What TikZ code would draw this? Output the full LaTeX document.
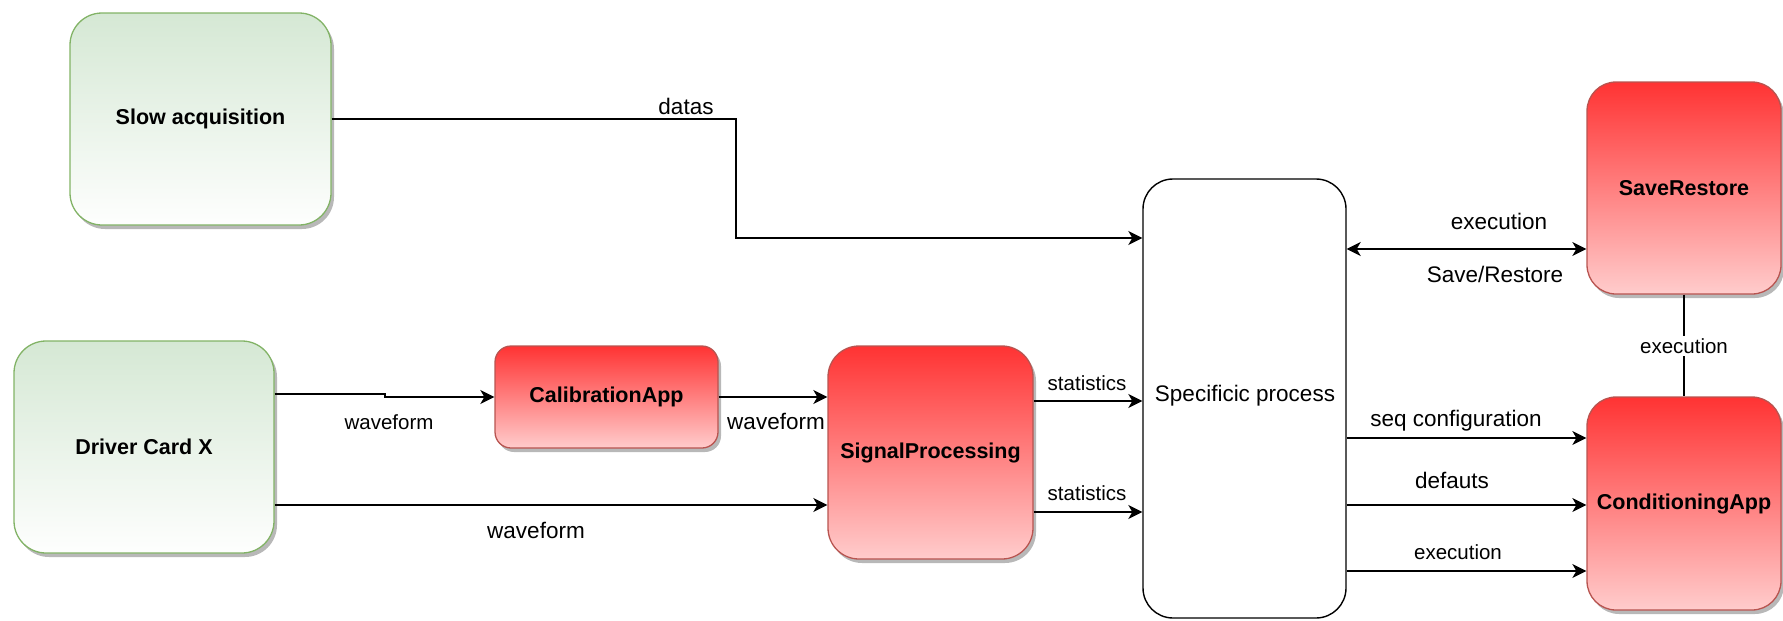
\documentclass[tikz,border=0pt]{standalone}
\usepackage{fontspec}
\setmainfont{Liberation Sans}
\usetikzlibrary{arrows.meta,shadows}
\definecolor{gfill}{HTML}{D5E8D4}
\definecolor{gline}{HTML}{82B366}
\definecolor{rtop}{HTML}{FF3333}
\definecolor{rbot}{HTML}{FFCCCC}
\definecolor{rline}{HTML}{B85450}
\newcommand{\nodefont}{\fontsize{21.5}{26}\selectfont\bfseries}
\newcommand{\lblfont}{\fontsize{22.5}{27}\selectfont}
\newcommand{\smlfont}{\fontsize{20.5}{25}\selectfont}
\tikzset{
  shad/.style={drop shadow={shadow xshift=3pt,shadow yshift=-4pt,fill=black,opacity=0.28}},
  greenbox/.style={rectangle, draw=gline, line width=1.3pt, top color=gfill, bottom color=white!97!gfill, shad, font=\nodefont, inner sep=0pt},
  redbox/.style={rectangle, draw=rline, line width=1.3pt, top color=rtop, bottom color=rbot, shad, font=\nodefont, inner sep=0pt},
  procbox/.style={rectangle, draw=black, line width=1.4pt, fill=white, font=\lblfont, inner sep=0pt},
  arr/.style={draw, line width=1.6pt, -{Stealth[length=14pt,width=14pt,inset=4pt]}},
  biarr/.style={draw, line width=1.6pt, {Stealth[length=14pt,width=14pt,inset=4pt]}-{Stealth[length=14pt,width=14pt,inset=4pt]}},
  lbl/.style={font=\lblfont, inner sep=1pt},
  slbl/.style={font=\smlfont, inner sep=1pt}
}
\begin{document}
\begin{tikzpicture}[x=1pt,y=-1pt]
\useasboundingbox (0,0) rectangle (1783,621);
% nodes
\node[greenbox, rounded corners=32pt, minimum width=261pt, minimum height=212pt] (sa) at (200.5,119) {Slow acquisition};
\node[greenbox, rounded corners=32pt, minimum width=260pt, minimum height=212pt] (dc) at (144,447) {Driver Card X};
\node[redbox, rounded corners=16pt, minimum width=223pt, minimum height=102pt] (cal) at (606.5,397) {CalibrationApp};
\node[redbox, rounded corners=31pt, minimum width=205pt, minimum height=213pt] (sp) at (930.5,452.5) {SignalProcessing};
\node[procbox, rounded corners=30pt, minimum width=203pt, minimum height=439pt] (spec) at (1244.5,398.5) {};
\node[lbl] (spectxt) at (1245,396) {Specificic process};
\node[redbox, rounded corners=29pt, minimum width=194pt, minimum height=212pt] (sr) at (1684,188) {SaveRestore};
\node[redbox, rounded corners=29pt, minimum width=194pt, minimum height=213pt] (ca) at (1684,503.5) {ConditioningApp};
% helper coordinates
\coordinate (d1) at (736,238);
\coordinate (y394) at (0,394);
\coordinate (s1) at (385,394);
\coordinate (s2) at (385,397);
\coordinate (y505) at (0,505);
\coordinate (y401) at (0,401);
\coordinate (y512) at (0,512);
\coordinate (y249) at (0,249);
\coordinate (y438) at (0,438);
\coordinate (y571) at (0,571);
% connectors
\draw[arr] (sa.east) -| (d1) -- (d1 -| spec.west);
\draw[arr] (dc.east |- y394) -- (s1) -- (s2) -- (cal.west);
\draw[arr] (cal.east) -- (cal.east -| sp.west);
\draw[arr] (dc.east |- y505) -- (sp.west |- y505);
\draw[arr] (sp.east |- y401) -- (spec.west |- y401);
\draw[arr] (sp.east |- y512) -- (spec.west |- y512);
\draw[biarr] (spec.east |- y249) -- (sr.west |- y249);
\draw[line width=1.6pt] (sr.south) -- (ca.north);
\draw[arr] (spec.east |- y438) -- (ca.west |- y438);
\draw[arr] (spec.east |- y505) -- (ca.west |- y505);
\draw[arr] (spec.east |- y571) -- (ca.west |- y571);
% labels
\node[lbl] (l1) at (686,106) {datas};
\node[slbl] (l2) at (389,422) {waveform};
\node[lbl] (l3) at (776,421) {waveform};
\node[lbl] (l4) at (536,530) {waveform};
\node[slbl] (l5) at (1087,383) {statistics};
\node[slbl] (l6) at (1087,493) {statistics};
\node[lbl] (l7) at (1499,221) {execution};
\node[lbl] (l8) at (1495,274) {Save/Restore};
\node[slbl, fill=white, inner sep=2pt] (l9) at (1684,346) {execution};
\node[lbl] (l10) at (1456,421) {seq configuration};
\node[lbl] (l11) at (1452,480) {defauts};
\node[slbl] (l12) at (1458,552) {execution};
\end{tikzpicture}
\end{document}
